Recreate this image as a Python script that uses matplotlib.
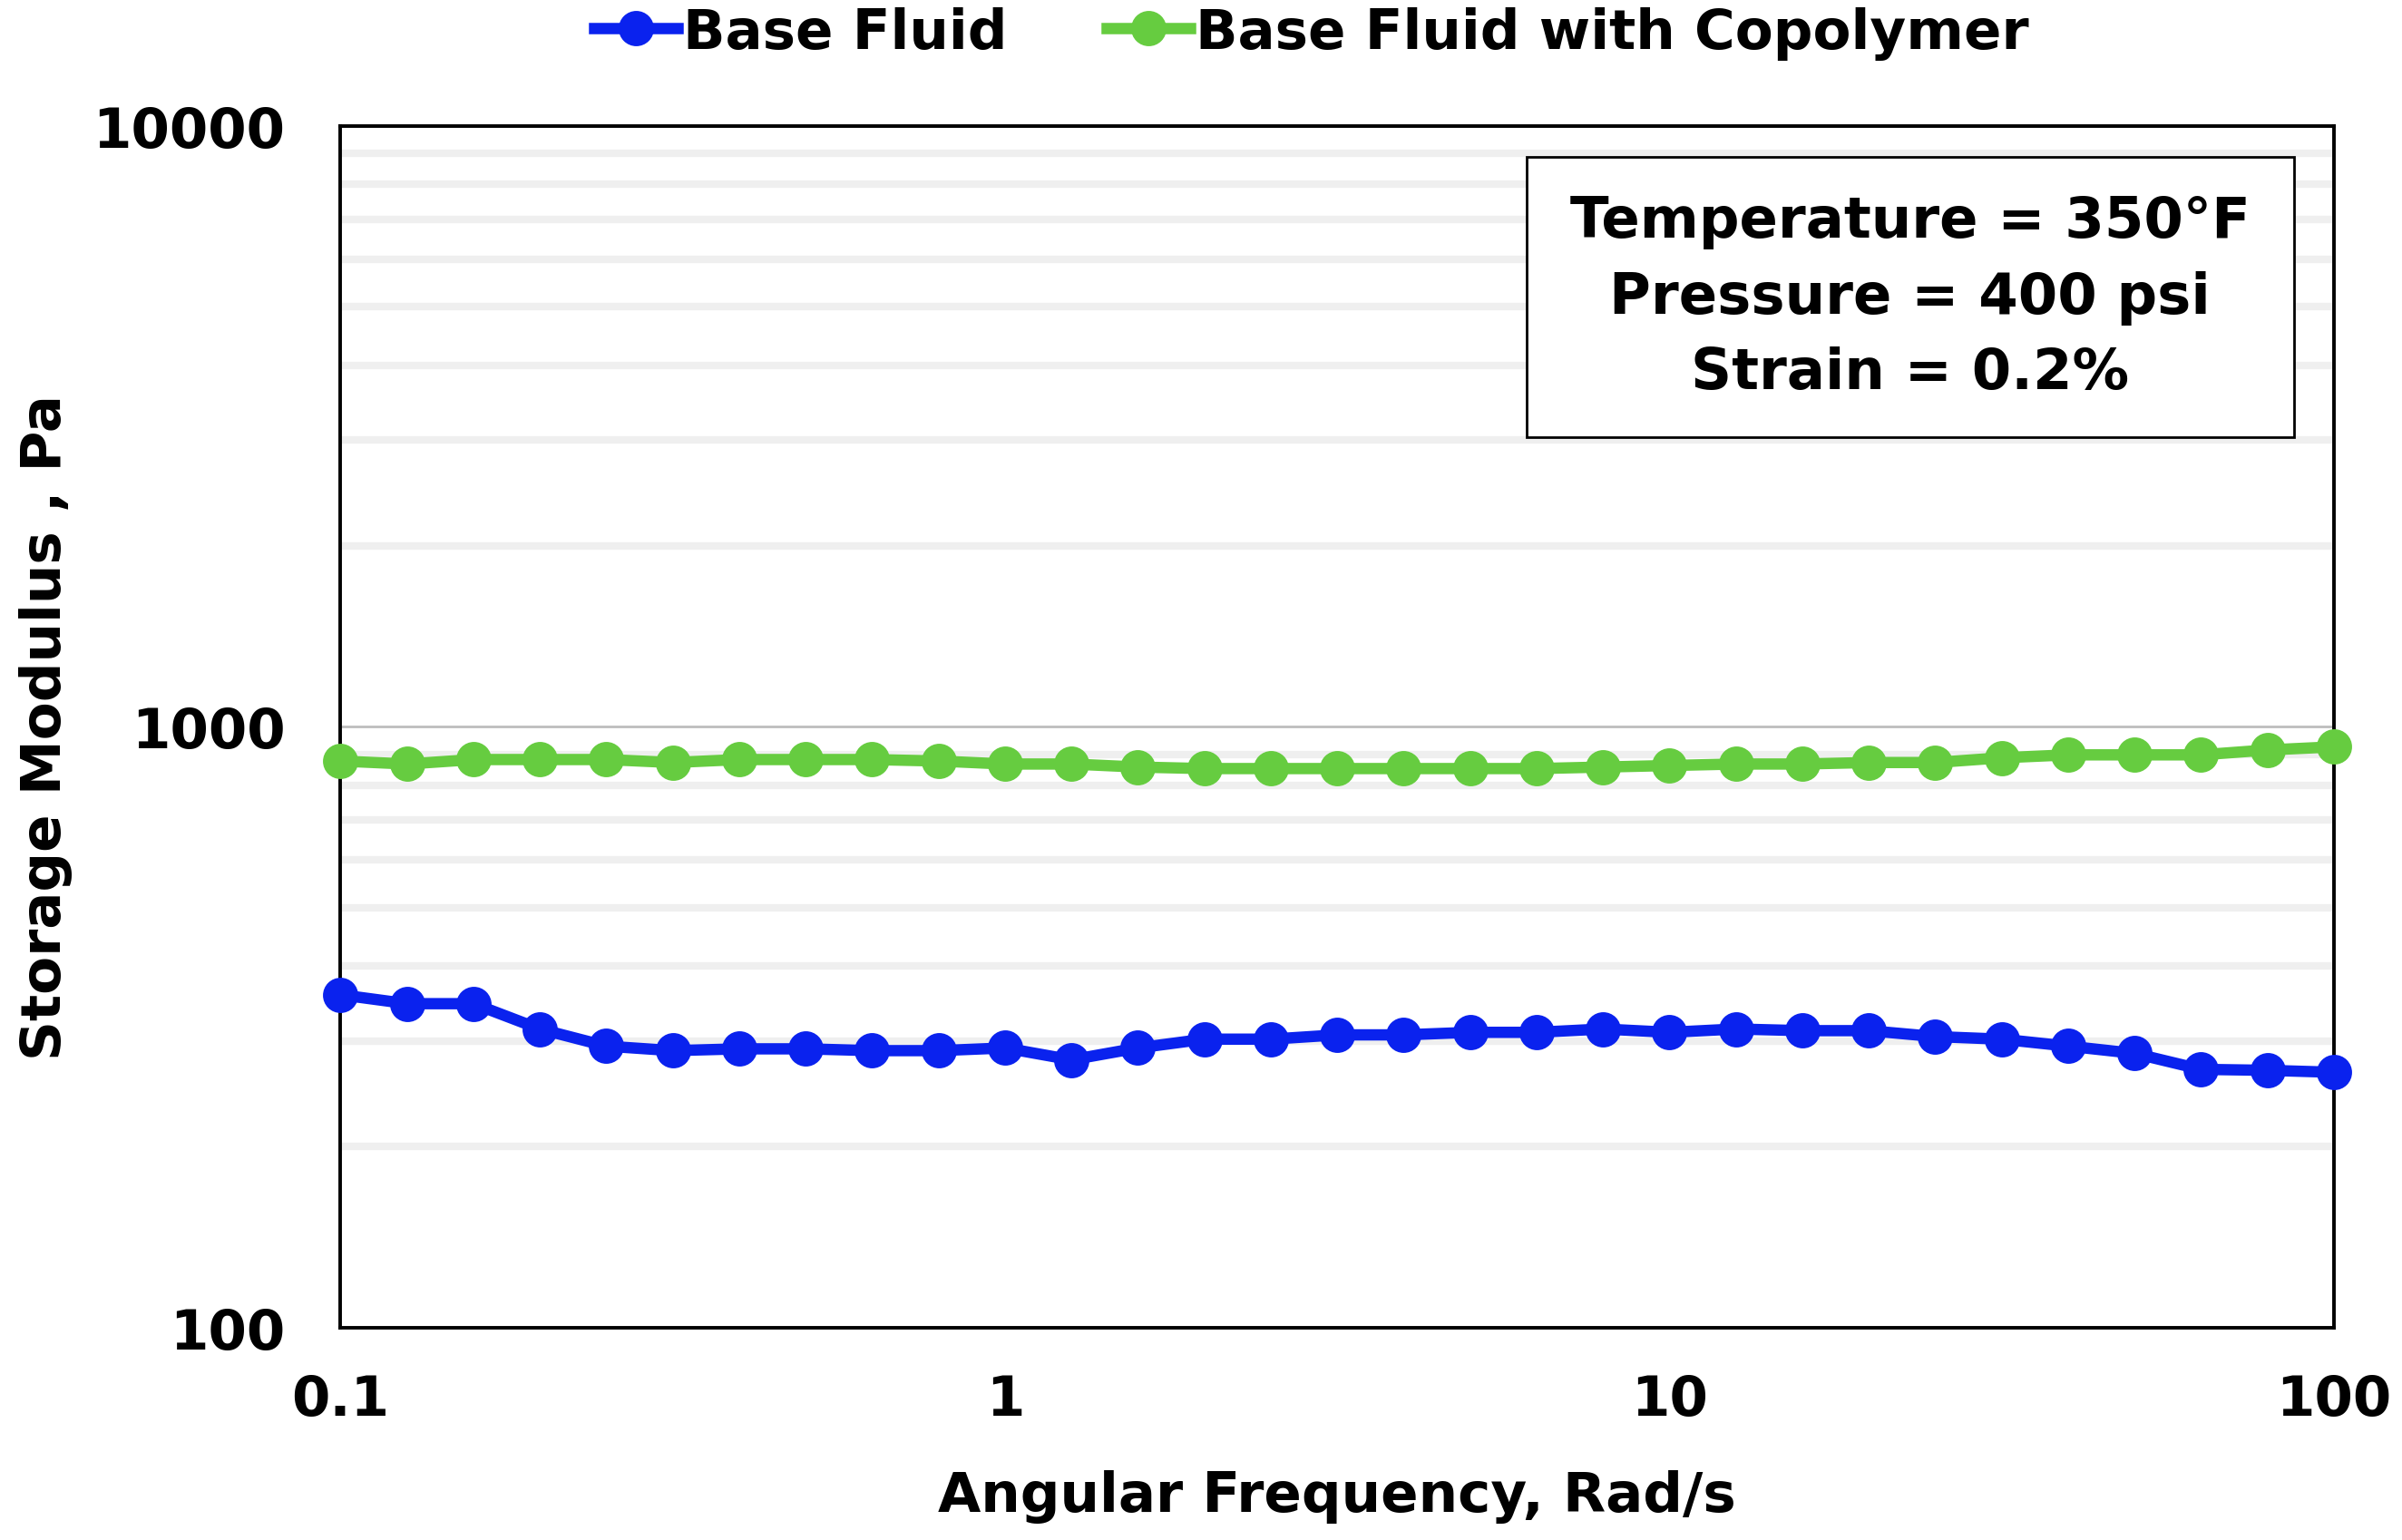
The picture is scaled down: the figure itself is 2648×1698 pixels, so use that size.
import numpy as np
import matplotlib
matplotlib.use("Agg")
import matplotlib.pyplot as plt
from matplotlib.ticker import FixedLocator, NullFormatter
from matplotlib.patches import Rectangle

freq = [0.1, 0.1259, 0.1585, 0.1995, 0.2512, 0.3162, 0.3981, 0.5012, 0.631, 0.7943,
        1.0, 1.259, 1.585, 1.995, 2.512, 3.162, 3.981, 5.012, 6.31, 7.943,
        10.0, 12.59, 15.85, 19.95, 25.12, 31.62, 39.81, 50.12, 63.1, 79.43, 100.0]
base_fluid = [358, 346, 346, 314, 294, 289, 291, 291, 289, 289,
              292, 279, 292, 302, 302, 307, 307, 310, 310, 314,
              310, 314, 312, 312, 305, 302, 294, 286, 269, 268, 266]
copolymer = [877, 867, 882, 882, 882, 872, 882, 882, 882, 877,
             867, 867, 857, 852, 852, 852, 852, 852, 852, 857,
             862, 867, 867, 872, 872, 888, 898, 898, 898, 915, 926]
x_ticks = [0.1, 1, 10, 100]
x_labels = ["0.1", "1", "10", "100"]
y_ticks = [100, 1000, 10000]
y_labels = ["100", "1000", "10000"]

plt.rcParams['font.family'] = ['DejaVu Sans']
plt.rcParams['font.weight'] = 'bold'

fig = plt.figure(figsize=(13.24, 8.495), dpi=200)
ax = fig.add_axes([0.1418, 0.1379, 0.9716 - 0.1418, 0.9176 - 0.1379])

ax.set_xscale('log')
ax.set_yscale('log')
ax.set_xlim(0.1, 100)
ax.set_ylim(100, 10000)

minor = [v * d for d in (100, 1000) for v in range(2, 10)]
ax.yaxis.set_minor_locator(FixedLocator(minor))
ax.yaxis.set_minor_formatter(NullFormatter())
ax.xaxis.set_minor_formatter(NullFormatter())
ax.set_xticks(x_ticks)
ax.set_xticklabels(x_labels)
ax.set_yticks(y_ticks)
ax.set_yticklabels(y_labels)
ax.grid(True, which='minor', axis='y', color='#efefef', linewidth=3.0, zorder=0)
ax.grid(True, which='major', axis='y', color='#bdbdbd', linewidth=1.0, zorder=0)
ax.grid(False, axis='x', which='both')
ax.tick_params(axis='both', which='both', length=0)
ax.tick_params(axis='x', which='major', pad=18, labelsize=22)
ax.tick_params(axis='y', which='major', pad=22, labelsize=22)
for lab in ax.get_xticklabels() + ax.get_yticklabels():
    lab.set_fontweight('bold')

for s in ax.spines.values():
    s.set_linewidth(1.4)
    s.set_color('black')

ax.plot(freq, base_fluid, '-o', color='#0a22ee', lw=4.5, ms=13, label='Base Fluid', zorder=3, clip_on=False)
ax.plot(freq, copolymer, '-o', color='#66cc40', lw=4.5, ms=13, label='Base Fluid with Copolymer', zorder=3, clip_on=False)

ax.set_xlabel('Angular Frequency, Rad/s', fontsize=22, fontweight='bold', labelpad=17)
ax.set_ylabel('Storage Modulus , Pa', fontsize=22, fontweight='bold', labelpad=8)

ax.add_patch(Rectangle((0.595, 0.741), 0.980 - 0.595, 0.974 - 0.741, transform=ax.transAxes,
                       fc='white', ec='black', lw=1.0, zorder=4))
ax.text(0.7875, 0.8575, 'Temperature = 350°F\nPressure = 400 psi\nStrain = 0.2%',
        transform=ax.transAxes, ha='center', va='center', fontsize=22.5,
        fontweight='bold', linespacing=1.5, zorder=5)

leg = fig.legend(loc='center', bbox_to_anchor=(0.546, 0.978), ncol=2, frameon=False,
                 handlelength=1.5, handletextpad=0.1, columnspacing=1.8,
                 prop={'weight': 'bold', 'size': 22})
fig.savefig('out.png', dpi=200)
